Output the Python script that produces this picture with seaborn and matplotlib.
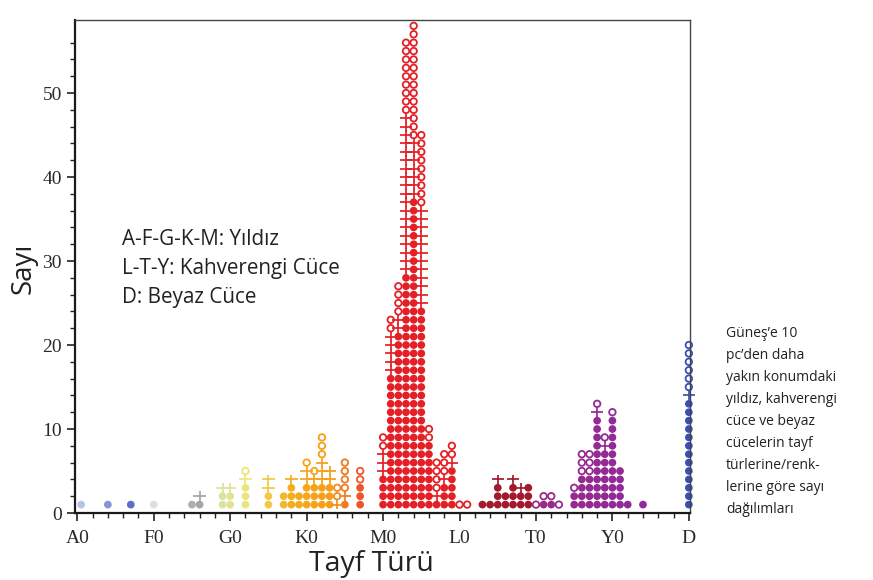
import numpy as np
import pandas as pd
import matplotlib
matplotlib.use("Agg")
import matplotlib.pyplot as plt
from matplotlib.path import Path
from matplotlib.colors import to_rgb, to_hex
import seaborn as sns

# ---------------- data ----------------
subtypes = ["A0.5", "A4", "A7", "F0", "F5", "F6", "F9", "G0", "G2", "G5", "G7", "G8", "G9",
            "K0", "K1", "K2", "K3", "K4", "K5", "K7",
            "M0", "M1", "M2", "M3", "M4", "M5", "M6", "M7", "M8", "M9",
            "L0", "L1", "L3", "L4", "L5", "L6", "L7", "L8", "L9",
            "T0", "T1", "T2", "T3", "T5", "T6", "T7", "T8", "T9",
            "Y0", "Y1", "Y2", "Y4", "D"]
n_filled = [1, 1, 1, 1, 1, 1, 2, 2, 3, 2, 2, 3, 2,
            3, 3, 3, 3, 0, 1, 3,
            4, 16, 21, 28, 37, 24, 8, 1, 3, 5,
            0, 0, 1, 1, 3, 2, 3, 2, 3,
            0, 1, 1, 0, 2, 4, 4, 11, 7,
            11, 5, 1, 1, 13]
n_plus = [0, 0, 0, 0, 0, 1, 1, 1, 1, 2, 0, 1, 0,
          2, 1, 3, 2, 1, 1, 0,
          3, 5, 2, 19, 7, 12, 0, 1, 1, 1,
          0, 0, 0, 0, 1, 0, 1, 1, 0,
          0, 0, 0, 0, 0, 0, 0, 1, 1,
          0, 0, 0, 0, 1]
n_open = [0, 0, 0, 0, 0, 0, 0, 0, 1, 0, 0, 0, 0,
          1, 1, 3, 0, 2, 4, 2,
          2, 2, 4, 9, 14, 9, 2, 4, 3, 2,
          1, 1, 0, 0, 0, 0, 0, 0, 0,
          1, 1, 1, 1, 1, 3, 3, 1, 1,
          1, 0, 0, 0, 6]

class_names = ["A", "F", "G", "K", "M", "L", "T", "Y", "D"]
tick_labels = ["A0", "F0", "G0", "K0", "M0", "L0", "T0", "Y0", "D"]

annotation_lines = ["A-F-G-K-M: Yıldız", "L-T-Y: Kahverengi Cüce", "D: Beyaz Cüce"]
caption = ("Güneş’e 10\npc’den daha\nyakın konumdaki\nyıldız, kahverengi\n"
           "cüce ve beyaz\ncücelerin tayf\ntürlerine/renk-\nlerine göre sayı\ndağılımları")

# ---------------- helpers ----------------
def position(st):
    cls = class_names.index(st[0])
    return cls * 10 + (float(st[1:]) if len(st) > 1 else 0.0)

# colour ramp along the spectral sequence
ramp_pos = [0, 7, 10, 16, 19, 22, 25, 28, 33, 35, 37, 40, 51, 53, 59, 60, 79, 80]
ramp_col = ['#bcc8ee', '#5d6ec4', '#dedede', '#a6a6a6', '#dce2a0', '#ece67a', '#f2c84a',
            '#f4ae1c', '#f69d19', '#f07a24', '#ec5628', '#e41f25', '#e41f25', '#a3192d',
            '#a3192d', '#9a2a86', '#8c2aa4', '#3b50b5']
ramp_rgb = np.array([to_rgb(c) for c in ramp_col])

def colour_at(p):
    return to_hex([np.interp(p, ramp_pos, ramp_rgb[:, i]) for i in range(3)])

rows = []
for st, nf, npl, no in zip(subtypes, n_filled, n_plus, n_open):
    x = position(st)
    c = colour_at(x)
    k = 0
    for kind, n in (("filled", nf), ("plus", npl), ("open", no)):
        for _ in range(n):
            k += 1
            rows.append({"x": x, "y": k, "kind": kind, "colour": c})
df = pd.DataFrame(rows)
palette = {c: c for c in df["colour"].unique()}

# ---------------- figure ----------------
sns.set_theme(style="white")
plt.rcParams["font.family"] = ["Open Sans", "DejaVu Sans"]

fig = plt.figure(figsize=(8.73, 5.80), dpi=100)
ax = fig.add_axes([75 / 873, 1 - 513 / 580, (690 - 75) / 873, (513 - 20) / 580])

plus_marker = Path([(-1, 0), (1, 0), (0, -0.78), (0, 0.78)],
                   [Path.MOVETO, Path.LINETO, Path.MOVETO, Path.LINETO])

def hollow(coll):
    fc = coll.get_facecolor()
    coll.set_edgecolor(fc)
    coll.set_facecolor("none")

sub = df[df.kind == "filled"]
sns.scatterplot(data=sub, x="x", y="y", hue="colour", palette=palette, marker="o",
                s=31, linewidth=0, legend=False, ax=ax)
ax.collections[-1].set_clip_on(False)

sub = df[df.kind == "plus"]
sns.scatterplot(data=sub, x="x", y="y", hue="colour", palette=palette, marker=plus_marker,
                s=80, linewidth=1.25, legend=False, ax=ax)
hollow(ax.collections[-1])
ax.collections[-1].set_clip_on(False)

sub = df[df.kind == "open"]
sns.scatterplot(data=sub, x="x", y="y", hue="colour", palette=palette, marker="o",
                s=22, linewidth=1.3, legend=False, ax=ax)
hollow(ax.collections[-1])
ax.collections[-1].set_clip_on(False)

ax.set_xlim(-0.3, 80.15)
ax.set_ylim(0, 58.7)
ax.set_xticks(np.arange(0, 81, 10))
ax.set_xticklabels(tick_labels)
ax.set_xticks(np.arange(0, 81, 2), minor=True)
ax.set_yticks(np.arange(0, 51, 10))
ax.set_yticks(np.arange(0, 58, 2), minor=True)

for lab in ax.get_xticklabels() + ax.get_yticklabels():
    lab.set_fontfamily(["Liberation Serif", "DejaVu Serif"])
    lab.set_fontsize(14)
    lab.set_color("#2a2a2a")

ax.tick_params(axis="x", which="major", pad=6)
ax.tick_params(axis="both", which="major", direction="out", length=6, width=1.2,
               color="#222222", bottom=True, left=True)
ax.tick_params(axis="both", which="minor", direction="out", length=3.5, width=1.0,
               color="#222222", bottom=True, left=True)

for side in ("left", "bottom"):
    ax.spines[side].set_color("#1a1a1a")
    ax.spines[side].set_linewidth(1.6)
for side in ("top", "right"):
    ax.spines[side].set_color("#444444")
    ax.spines[side].set_linewidth(1.0)

ax.set_xlabel("")
ax.set_ylabel("")
fig.text(371 / 873, 1 - 564 / 580, "Tayf Türü", ha="center", va="center",
         fontsize=20.5, color="#222222")
fig.text(24 / 873, 1 - 268 / 580, "Sayı", ha="center", va="center", rotation=90,
         fontsize=20, color="#222222")

for i, line in enumerate(annotation_lines):
    fig.text(122 / 873, 1 - (240 + i * 28.5) / 580, line, ha="left", va="center",
             fontsize=14.9, color="#222222")

fig.text(726 / 873, 1 - 326 / 580, caption, ha="left", va="top", fontsize=10,
         color="#222222", linespacing=1.64)

fig.savefig("out.png", dpi=100, facecolor="white")
